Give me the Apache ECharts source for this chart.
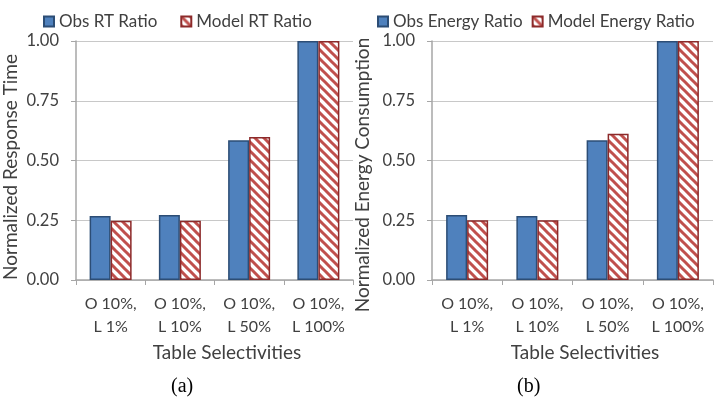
<!DOCTYPE html>
<html lang="en">
<head>
  <meta charset="UTF-8">
  <script src="https://cdn.jsdelivr.net/npm/echarts@6/dist/echarts.min.js"></script>
  <title>RT and Energy Ratios</title>
  <style>
    html, body { margin: 0; padding: 0; background: #fff; }
    #chart { width: 723px; height: 401px; }
  </style>
</head>
<body>
  <div id="chart"></div>
  <script>
    // values
    const categories = ['O 10%,\nL 1%', 'O 10%,\nL 10%', 'O 10%,\nL 50%', 'O 10%,\nL 100%'];
    const obsRT = [0.268, 0.272, 0.585, 1.0];
    const modelRT = [0.248, 0.248, 0.598, 1.0];
    const obsEnergy = [0.272, 0.268, 0.585, 1.0];
    const modelEnergy = [0.250, 0.250, 0.612, 1.0];

    const FONT = 'Lato';
    const TXT = '#404040';

    // red diagonal hatch for the model bars
    function hatch() {
      const s = 9;
      const c = document.createElement('canvas');
      c.width = s; c.height = s;
      const g = c.getContext('2d');
      g.fillStyle = '#fff';
      g.fillRect(0, 0, s, s);
      g.strokeStyle = '#c0504d';
      g.lineWidth = 3;
      g.beginPath();
      g.moveTo(-2, -2); g.lineTo(s + 2, s + 2);
      g.moveTo(-2, s - 2); g.lineTo(2, s + 2);
      g.moveTo(s - 2, -2); g.lineTo(s + 2, 2);
      g.stroke();
      return c;
    }
    const hatchFill = { image: hatch(), repeat: 'repeat' };

    function xAxis(idx) {
      return {
        type: 'category', gridIndex: idx, data: categories,
        name: 'Table Selectivities', nameLocation: 'middle', nameGap: 61,
        nameTextStyle: { fontFamily: FONT, fontSize: 19, color: TXT, padding: [0, 0, 0, 25] },
        axisLine: { lineStyle: { color: '#a6a6a6', width: 1.5 } },
        axisTick: { show: true, length: 5, interval: 0, lineStyle: { color: '#a6a6a6' } },
        axisLabel: { fontFamily: FONT, fontSize: 16, color: TXT, lineHeight: 23, margin: 12, interval: 0 }
      };
    }
    function yAxis(idx, name, gap, shift) {
      return {
        type: 'value', gridIndex: idx, min: 0, max: 1, interval: 0.25,
        name: name, nameLocation: 'middle', nameGap: gap,
        nameTextStyle: { fontFamily: FONT, fontSize: 19, color: TXT, padding: [0, shift, 0, 0] },
        axisLine: { show: true, lineStyle: { color: '#a6a6a6', width: 1.5 } },
        axisTick: { show: true, length: 5, lineStyle: { color: '#a6a6a6' } },
        axisLabel: { fontFamily: FONT, fontSize: 16.5, color: TXT, margin: 17, formatter: v => v.toFixed(2) },
        splitLine: { lineStyle: { color: '#c8c8c8', width: 1 } }
      };
    }
    function obsSeries(name, data, idx) {
      return {
        name: name, type: 'bar', xAxisIndex: idx, yAxisIndex: idx, data: data,
        barWidth: 21, barGap: '0%',
        itemStyle: { color: '#4f81bd', borderColor: '#2c4d75', borderWidth: 1.5 }
      };
    }
    function modelSeries(name, data, idx) {
      return {
        name: name, type: 'bar', xAxisIndex: idx, yAxisIndex: idx, data: data,
        barWidth: 21, barGap: '0%',
        itemStyle: { color: hatchFill, borderColor: '#8c2a2a', borderWidth: 1.5 }
      };
    }
    const legendText = { fontFamily: FONT, fontSize: 17, color: TXT };

    const chart = echarts.init(document.getElementById('chart'));
    chart.setOption({
      animation: false,
      grid: [
        { left: 72, right: 370, top: 41, bottom: 121 },
        { left: 432, right: 10, top: 41, bottom: 121 }
      ],
      legend: [
        { data: ['Obs RT Ratio', 'Model RT Ratio'], icon: 'rect', left: 38, top: 8, itemWidth: 10, itemHeight: 10, itemGap: 23, textStyle: legendText },
        { data: ['Obs Energy Ratio', 'Model Energy Ratio'], icon: 'rect', left: 372, top: 8, itemWidth: 10, itemHeight: 10, itemGap: 9, textStyle: legendText }
      ],
      xAxis: [xAxis(0), xAxis(1)],
      yAxis: [yAxis(0, 'Normalized Response Time', 56, 13), yAxis(1, 'Normalized Energy Consumption', 60, 29)],
      series: [
        obsSeries('Obs RT Ratio', obsRT, 0),
        modelSeries('Model RT Ratio', modelRT, 0),
        obsSeries('Obs Energy Ratio', obsEnergy, 1),
        modelSeries('Model Energy Ratio', modelEnergy, 1)
      ],
      graphic: [
        { type: 'text', left: 171, top: 377, style: { text: '(a)', font: '20px "Liberation Serif"', fill: '#000' } },
        { type: 'text', left: 517, top: 377, style: { text: '(b)', font: '20px "Liberation Serif"', fill: '#000' } }
      ]
    });
  </script>
</body>
</html>
